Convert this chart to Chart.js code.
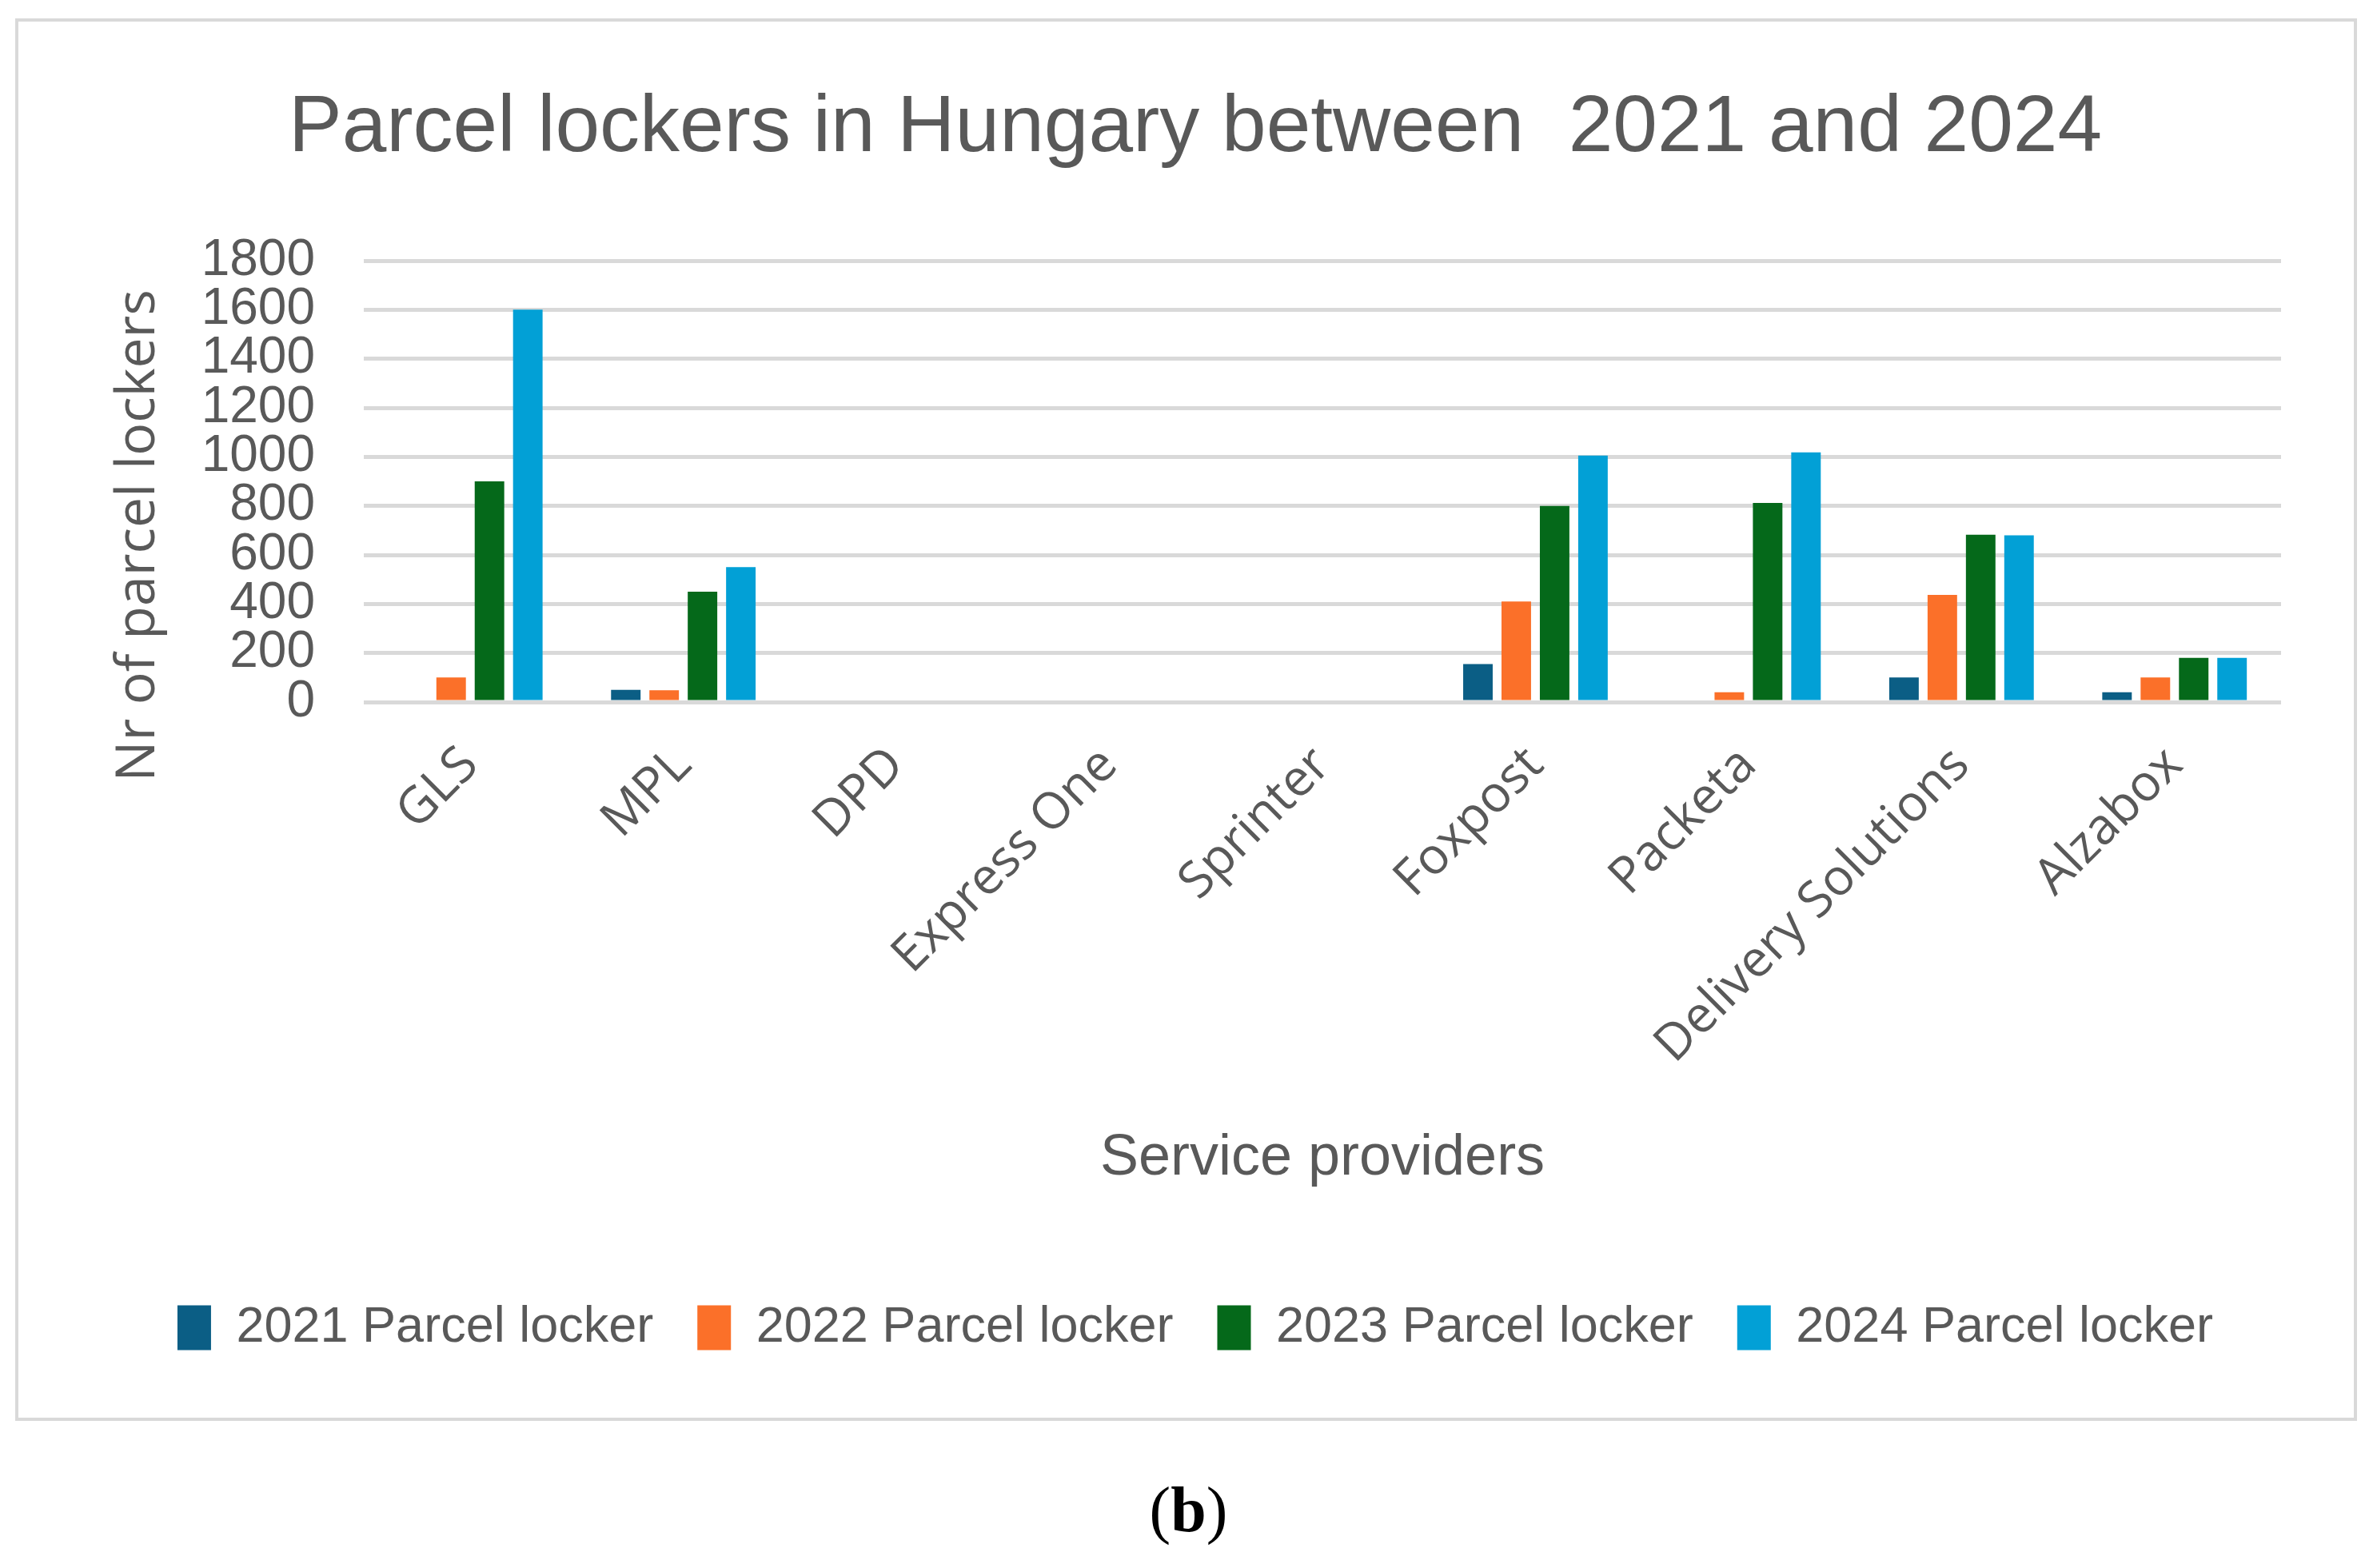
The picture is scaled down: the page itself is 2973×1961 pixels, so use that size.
<!DOCTYPE html>
<html>
<head>
<meta charset="utf-8">
<title>Parcel lockers in Hungary between 2021 and 2024</title>
<script src="https://cdn.jsdelivr.net/npm/chart.js@4.4.1/dist/chart.umd.min.js"></script>
<style>
  body { margin: 0; background: #fff; }
  #wrap { position: relative; width: 2973px; height: 1961px; }
  #chart { position: absolute; left: 0; top: 0; }
  #frame { position: absolute; left: 19px; top: 23px; width: 2921px; height: 1746px; border: 4px solid #d9d9d9; pointer-events: none; }
  #cap { position: absolute; left: 0; top: 1848px; width: 2973px; text-align: center; font: 80px/80px "Liberation Serif", serif; color: #000; }
</style>
</head>
<body>
<div id="wrap">
  <canvas id="chart" width="2973" height="1961"></canvas>
  <div id="frame"></div>
  <div id="cap">(<b>b</b>)</div>
</div>
<script>
const categories = ['GLS', 'MPL', 'DPD', 'Express One', 'Sprinter', 'Foxpost', 'Packeta', 'Delivery Solutions', 'Alzabox'];
const seriesNames = ['2021 Parcel locker', '2022 Parcel locker', '2023 Parcel locker', '2024 Parcel locker'];
const lockers2021 = [0, 50, 0, 0, 0, 155, 0, 100, 40];
const lockers2022 = [100, 48, 0, 0, 0, 410, 40, 437, 100];
const lockers2023 = [900, 450, 0, 0, 0, 800, 812, 682, 180];
const lockers2024 = [1600, 550, 0, 0, 0, 1005, 1018, 680, 180];
const yMax = 1800;
const yStep = 200;

const colors = ['#0b5e85', '#fb7029', '#05691a', '#02a0d6'];
const textColor = '#595959';

// y axis title drawn by hand so it can sit a bit lower than the plot centre, like the original
const yTitle = {
  id: 'yTitle',
  afterDraw(chart) {
    const { ctx, chartArea } = chart;
    ctx.save();
    ctx.translate(174, (chartArea.top + chartArea.bottom) / 2 + 68);
    ctx.rotate(-Math.PI / 2);
    ctx.font = '68px "Open Sans"';
    ctx.fillStyle = textColor;
    ctx.textAlign = 'center';
    ctx.textBaseline = 'middle';
    ctx.fillText('Nr of parcel lockers', 0, 0);
    ctx.restore();
  }
};

const ctx = document.getElementById('chart').getContext('2d');
new Chart(ctx, {
  type: 'bar',
  data: {
    labels: categories,
    datasets: [lockers2021, lockers2022, lockers2023, lockers2024].map((d, i) => ({
      label: seriesNames[i],
      data: d,
      backgroundColor: colors[i],
      categoryPercentage: 0.72,
      barPercentage: 0.77
    }))
  },
  options: {
    responsive: false,
    animation: false,
    devicePixelRatio: 1,
    layout: { padding: { left: 137, right: 120, top: 0, bottom: 259 } },
    plugins: {
      title: {
        display: true,
        text: 'Parcel lockers in Hungary between  2021 and 2024',
        color: textColor,
        font: { family: 'Liberation Sans', size: 100, weight: 'normal' },
        padding: { top: 101, bottom: 105 }
      },
      legend: {
        position: 'bottom',
        labels: {
          color: textColor,
          font: { family: 'Liberation Sans', size: 63 },
          boxWidth: 42,
          boxHeight: 56,
          padding: 55
        }
      },
      tooltip: { enabled: false }
    },
    scales: {
      x: {
        grid: { display: false },
        border: { display: false },
        ticks: {
          color: textColor,
          font: { family: 'Open Sans', size: 63 },
          minRotation: 45,
          maxRotation: 45,
          autoSkip: false,
          padding: 34
        },
        title: {
          display: true,
          text: 'Service providers',
          color: textColor,
          font: { family: 'Liberation Sans', size: 72 },
          padding: { top: 0, bottom: 82 }
        },
        afterFit(s) { s.height = 696; }
      },
      y: {
        min: 0,
        max: yMax,
        ticks: {
          stepSize: yStep,
          autoSkip: false,
          format: { useGrouping: false },
          color: textColor,
          font: { family: 'Liberation Sans', size: 64 },
          padding: 61
        },
        grid: { color: '#d9d9d9', lineWidth: 5, drawTicks: false },
        border: { display: false },
        afterFit(s) { s.width = 318; }
      }
    }
  },
  plugins: [yTitle]
});
</script>
</body>
</html>
